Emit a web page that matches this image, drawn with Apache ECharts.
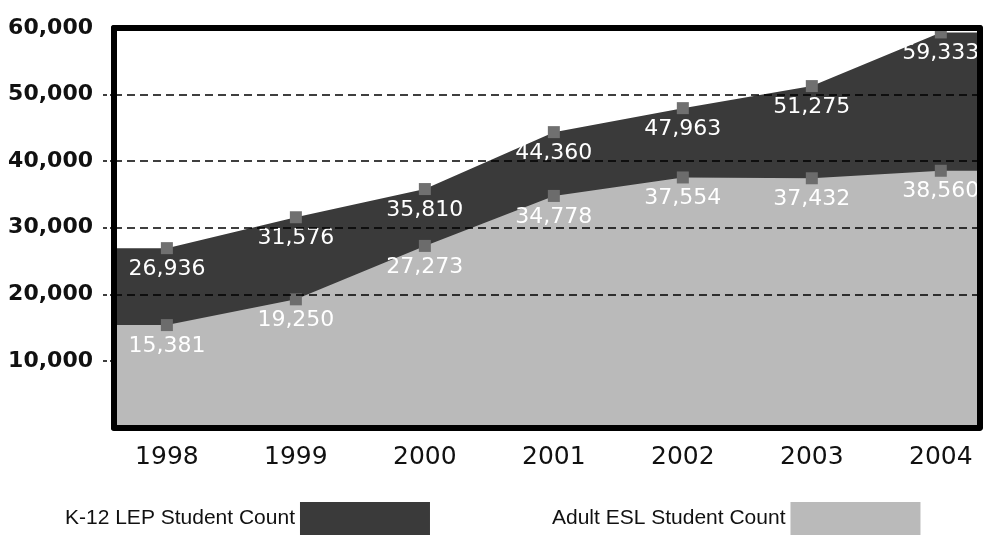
<!DOCTYPE html>
<html><head><meta charset="utf-8">
<script src="https://cdn.jsdelivr.net/npm/echarts@6/dist/echarts.min.js"></script>
<style>html,body{margin:0;padding:0;background:#fff}#c{width:987px;height:539px}</style>
</head><body><div id="c"></div>
<script>
const years = [1998, 1999, 2000, 2001, 2002, 2003, 2004];
const k12Counts = [26936, 31576, 35810, 44360, 47963, 51275, 59333];
const adultCounts = [15381, 19250, 27273, 34778, 37554, 37432, 38560];
const yTickValues = [10000, 20000, 30000, 40000, 50000];
const gridValues = [20000, 30000, 40000, 50000];
const seriesNames = ['K-12 LEP Student Count', 'Adult ESL Student Count'];

const X_MIN = 1997.59, X_MAX = 2004.3;
const fmt = v => v.toLocaleString('en-US');

function buildData(vals) {
  const d = [{ value: [X_MIN, vals[0]], symbol: 'none', label: { show: false } }];
  years.forEach((y, i) => d.push({ value: [y, vals[i]] }));
  d.push({ value: [X_MAX, vals[vals.length - 1]], symbol: 'none', label: { show: false } });
  return d;
}

const labelStyle = {
  show: true, position: 'bottom', distance: 4, color: '#fff',
  fontFamily: 'DejaVu Sans', fontSize: 22,
  formatter: p => fmt(p.value[1])
};

const chart = echarts.init(document.getElementById('c'), null, { renderer: 'canvas' });
chart.setOption({
  animation: false,
  backgroundColor: '#fff',
  grid: { left: 114, right: 7.5, top: 28, bottom: 111.5, containLabel: false },
  legend: {
    left: 60, top: 497, itemWidth: 130, itemHeight: 33, itemGap: 122, align: 'right',
    textStyle: { fontFamily: 'Liberation Sans', fontSize: 21, color: '#111' },
    data: [
      { name: seriesNames[0], icon: 'rect', itemStyle: { color: '#3a3a3a', borderWidth: 0 } },
      { name: seriesNames[1], icon: 'rect', itemStyle: { color: '#bababa', borderWidth: 0 } }
    ]
  },
  xAxis: [{
    type: 'value', min: X_MIN, max: X_MAX, z: 10,
    axisLine: { show: true, onZero: false, lineStyle: { color: '#000', width: 6 } },
    axisTick: { show: false }, splitLine: { show: false },
    axisLabel: {
      customValues: years, formatter: v => String(v), margin: 17,
      fontFamily: 'DejaVu Sans', fontSize: 25, color: '#111'
    }
  }, {
    type: 'value', position: 'top', min: X_MIN, max: X_MAX, z: 10,
    axisLine: { show: true, onZero: false, lineStyle: { color: '#000', width: 6 } },
    axisTick: { show: false }, splitLine: { show: false }, axisLabel: { show: false }
  }],
  yAxis: [{
    type: 'value', min: 0, max: 60000, interval: 10000, z: 10,
    axisLine: { show: true, onZero: false, lineStyle: { color: '#000', width: 6 } },
    axisTick: { show: true, customValues: yTickValues, length: 12, lineStyle: { color: '#000', width: 1.5, type: [4, 3] } },
    splitLine: { show: false },
    axisLabel: {
      formatter: v => v === 0 ? '' : fmt(v), margin: 21,
      fontFamily: 'DejaVu Sans', fontWeight: 'bold', fontSize: 22, color: '#111'
    }
  }, {
    type: 'value', position: 'right', min: 0, max: 60000, z: 10,
    axisLine: { show: true, onZero: false, lineStyle: { color: '#000', width: 6 } },
    axisTick: { show: false }, splitLine: { show: false }, axisLabel: { show: false }
  }],
  series: [{
    name: seriesNames[0], type: 'line', z: 2,
    data: buildData(k12Counts),
    symbol: 'rect', symbolSize: 12,
    itemStyle: { color: '#707070' },
    lineStyle: { width: 0 },
    areaStyle: { color: '#3a3a3a', opacity: 1 },
    label: labelStyle,
    markLine: {
      silent: true, symbol: ['none', 'none'], label: { show: false },
      lineStyle: { color: '#000', width: 1.5, type: [8, 5] },
      data: gridValues.map(v => ({ yAxis: v }))
    }
  }, {
    name: seriesNames[1], type: 'line', z: 3,
    data: buildData(adultCounts),
    symbol: 'rect', symbolSize: 12,
    itemStyle: { color: '#6c6c6c' },
    lineStyle: { width: 0 },
    areaStyle: { color: '#bababa', opacity: 1 },
    label: labelStyle
  }]
});
</script>
</body></html>
